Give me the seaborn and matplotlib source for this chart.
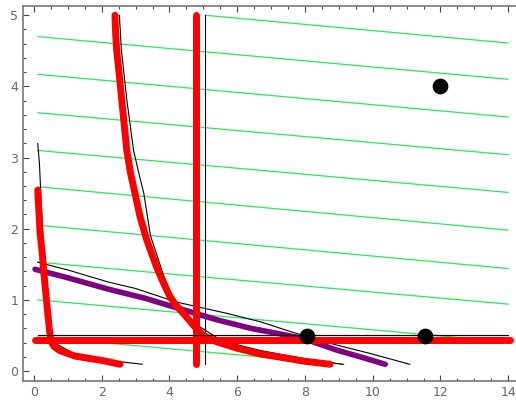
import numpy as np
import pandas as pd
import matplotlib
matplotlib.use("Agg")
import matplotlib.pyplot as plt
import seaborn as sns
from matplotlib.ticker import MultipleLocator


# --------------------------------------------------
# Data
# --------------------------------------------------

# green guide lines: start and end points
green_x0 = [5.05, 0.11, 0.11, 0.11, 0.11, 0.11, 0.11, 0.11, 0.11, 0.11]
green_y0 = [5.00, 4.70, 4.17, 3.63, 3.10, 2.59, 2.05, 1.53, 1.00, 0.48]
green_x1 = [14.0, 14.0, 14.0, 14.0, 14.0, 14.0, 14.0, 14.0, 12.8, 9.15]
green_y1 = [4.61, 4.10, 3.57, 3.04, 2.51, 1.98, 1.44, 0.94, 0.46, 0.094]

# thin black curves
black_left_x = [0.11, 0.16, 0.20, 0.30, 0.45, 0.52, 0.70, 1.20, 2.00, 3.20]
black_left_y = [3.20, 2.92, 2.50, 1.50, 0.70, 0.45, 0.37, 0.24, 0.16, 0.095]

black_mid_x = [2.52, 2.58, 2.74, 2.94, 3.11, 3.24, 3.44, 3.82, 4.12, 4.40,
               4.61, 4.90, 5.40, 6.00, 6.67, 7.56, 8.30, 9.13]
black_mid_y = [5.00, 4.51, 3.81, 3.10, 2.75, 2.50, 1.90, 1.35, 1.00, 0.84,
               0.74, 0.62, 0.47, 0.37, 0.29, 0.21, 0.15, 0.094]

black_upper_x = [0.11, 1.0, 2.2, 3.0, 4.2, 5.7, 6.7, 7.6, 8.9, 9.9, 11.1]
black_upper_y = [1.53, 1.42, 1.25, 1.16, 0.97, 0.81, 0.69, 0.55, 0.37, 0.25, 0.094]

black_vline_x = [5.05, 5.05]
black_vline_y = [0.10, 5.00]
black_hline_x = [0.12, 14.0]
black_hline_y = [0.50, 0.50]

# thick purple curve
purple_x = [0.03, 1.0, 2.2, 3.3, 4.2, 5.4, 6.4, 7.5, 8.0, 8.9, 9.7, 10.37]
purple_y = [1.43, 1.31, 1.15, 1.02, 0.89, 0.72, 0.60, 0.50, 0.45, 0.30, 0.19, 0.095]

# thick red curves
red_left_x = [0.11, 0.18, 0.23, 0.32, 0.45, 0.50, 0.58, 0.75, 1.21, 2.05, 2.54]
red_left_y = [2.54, 1.93, 1.72, 1.23, 0.60, 0.42, 0.35, 0.29, 0.21, 0.145, 0.095]

red_mid_x = [2.39, 2.41, 2.44, 2.52, 2.59, 2.74, 2.85, 2.98, 3.13, 3.33,
             3.62, 3.82, 4.02, 4.20, 4.41, 4.75, 5.00, 5.40, 6.00, 6.67,
             7.46, 7.95, 8.74]
red_mid_y = [5.00, 4.75, 4.51, 4.15, 3.81, 3.10, 2.78, 2.50, 2.17, 1.84,
             1.46, 1.24, 1.04, 0.92, 0.81, 0.62, 0.50, 0.41, 0.32, 0.24,
             0.18, 0.14, 0.095]

red_vline_x = [4.77, 4.77]
red_vline_y = [0.10, 5.00]
red_hline_x = [0.03, 14.05]
red_hline_y = [0.43, 0.43]

# black points
dot_x = [8.05, 11.55, 12.0]
dot_y = [0.49, 0.49, 4.0]


# --------------------------------------------------
# Figure
# --------------------------------------------------

sns.set_style("ticks")
plt.rcParams["font.family"] = ["DejaVu Sans"]

fig = plt.figure(figsize=(5.16, 4.0), dpi=100)
ax = fig.add_axes([23 / 516, 19 / 400, 493 / 516, 375 / 400])

green = "#2ae85a"
for x0, y0, x1, y1 in zip(green_x0, green_y0, green_x1, green_y1):
    sns.lineplot(x=[x0, x1], y=[y0, y1], ax=ax, color=green, lw=0.9,
                 sort=False, estimator=None, zorder=1)

for xs, ys in [
    (black_left_x, black_left_y),
    (black_mid_x, black_mid_y),
    (black_upper_x, black_upper_y),
    (black_vline_x, black_vline_y),
    (black_hline_x, black_hline_y),
]:
    sns.lineplot(x=xs, y=ys, ax=ax, color="black", lw=0.8,
                 sort=False, estimator=None, zorder=2)

sns.lineplot(x=purple_x, y=purple_y, ax=ax, color="#800080", lw=4.0,
             sort=False, estimator=None, zorder=3,
             solid_capstyle="round", solid_joinstyle="round")

for xs, ys in [
    (red_left_x, red_left_y),
    (red_mid_x, red_mid_y),
    (red_vline_x, red_vline_y),
    (red_hline_x, red_hline_y),
]:
    sns.lineplot(x=xs, y=ys, ax=ax, color="red", lw=5.0,
                 sort=False, estimator=None, zorder=4,
                 solid_capstyle="round", solid_joinstyle="round")

# black horizontal line stays visible above the red one
sns.lineplot(x=black_hline_x, y=black_hline_y, ax=ax, color="black", lw=0.8,
             sort=False, estimator=None, zorder=4.5)

sns.scatterplot(x=dot_x, y=dot_y, ax=ax, color="black", s=110,
                marker="o", edgecolor="black", zorder=5)

ax.set_xlim(-0.325, 14.23)
ax.set_ylim(-0.14, 5.13)

ax.xaxis.set_major_locator(MultipleLocator(2))
ax.xaxis.set_minor_locator(MultipleLocator(0.5))
ax.yaxis.set_major_locator(MultipleLocator(1))
ax.yaxis.set_minor_locator(MultipleLocator(0.2))

ax.tick_params(which="both", direction="in", top=True, right=False,
               color="#444444", labelcolor="#666666", labelsize=9)
ax.tick_params(which="major", length=4, width=0.8)
ax.tick_params(which="minor", length=2.5, width=0.8)

for side in ["left", "bottom", "top"]:
    ax.spines[side].set_color("#777777")
    ax.spines[side].set_linewidth(1.2)
ax.spines["right"].set_visible(False)

ax.set_xlabel("")
ax.set_ylabel("")

fig.savefig("out.png", dpi=100)
